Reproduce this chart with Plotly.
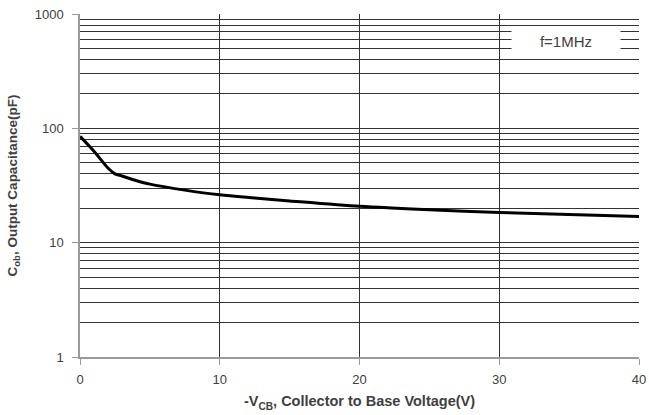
import plotly.graph_objects as go

# Data
vcb = [0, 1, 2, 2.5, 3, 4, 5, 7.5, 10, 12.5, 15, 20, 25, 30, 35, 40]
cob = [85, 63, 45, 40, 38.3, 35, 32.5, 28.8, 26.2, 24.6, 23.2, 20.8, 19.4, 18.4, 17.6, 16.9]

x_ticks = [0, 10, 20, 30, 40]
y_major = [1, 10, 100, 1000]
y_minor = [m * d for d in (1, 10, 100) for m in range(2, 10)]

grid_col = "#333333"
axis_col = "#9a9a9a"
txt_col = "#404040"
font_fam = "Liberation Sans, Arial, sans-serif"

fig = go.Figure()
fig.add_trace(go.Scatter(
    x=vcb, y=cob, mode="lines",
    line=dict(color="black", width=3, shape="spline", smoothing=0.8),
    showlegend=False, hoverinfo="skip",
))

fig.update_layout(
    width=649, height=415,
    margin=dict(l=80, r=10, t=14, b=58),
    paper_bgcolor="white", plot_bgcolor="white",
    font=dict(family=font_fam, size=13, color=txt_col),
    xaxis=dict(
        range=[0, 40], tickmode="array", tickvals=x_ticks,
        ticktext=[str(v) for v in x_ticks],
        showgrid=True, gridcolor=grid_col, gridwidth=1.2,
        showline=True, linecolor=axis_col, linewidth=1.5,
        ticks="outside", ticklen=6, tickcolor=axis_col,
        tickfont=dict(size=13, color=txt_col),
        ticklabeloverflow="allow", ticklabelstandoff=4,
        zeroline=False, automargin=False,
        title=dict(text="<b>-V<sub>CB</sub>, Collector to Base Voltage(V)</b>",
                   font=dict(size=14.5, color=txt_col), standoff=10),
    ),
    yaxis=dict(
        type="log", range=[0, 3], tickmode="array", tickvals=y_major,
        ticktext=[str(v) for v in y_major],
        showgrid=True, gridcolor=grid_col, gridwidth=1.2,
        showline=True, linecolor=axis_col, linewidth=1.5,
        ticks="outside", ticklen=6, tickcolor=axis_col,
        tickfont=dict(size=13, color=txt_col),
        ticklabeloverflow="allow", ticklabelstandoff=6,
        minor=dict(tickmode="array", tickvals=y_minor, showgrid=True,
                   gridcolor=grid_col, gridwidth=1.2, ticklen=0),
        zeroline=False, automargin=False,
        title=dict(text="<b>C<sub>ob</sub>, Output Capacitance(pF)</b>",
                   font=dict(size=13.5, color=txt_col), standoff=14),
    ),
)

fig.add_annotation(
    x=34.78, y=2.763, xref="x", yref="y", text="f=1MHz", showarrow=False,
    bgcolor="white", width=108, height=26, borderpad=0,
    font=dict(size=15, color=txt_col),
)

fig.write_html("out.html", config={"displayModeBar": False},
               post_script="document.body.style.margin='0';")
